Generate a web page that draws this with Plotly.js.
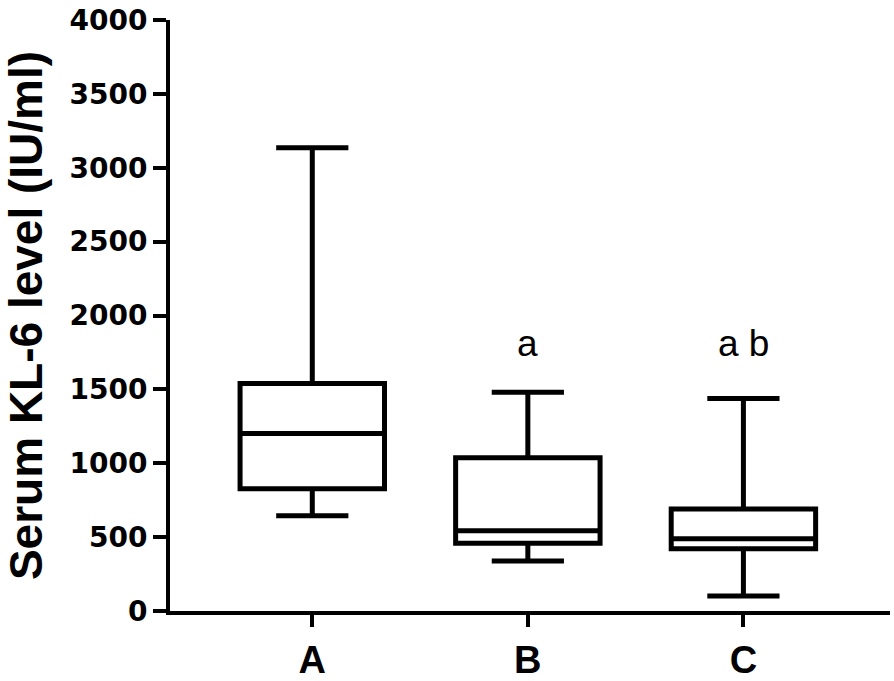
<!DOCTYPE html>
<html>
<head>
<meta charset="utf-8">
<script src="https://cdn.plot.ly/plotly-3.0.1.min.js"></script>
<style>html,body{margin:0;padding:0;background:#fff;}#chart{width:894px;height:681px;}</style>
</head>
<body>
<div id="chart"></div>
<script>
const categories = ['A', 'B', 'C'];
const lowerWhisker = [645, 339, 102];
const q1Values = [828, 458, 421];
const medianValues = [1201, 543, 489];
const q3Values = [1540, 1038, 690];
const upperWhisker = [3135, 1480, 1439];
const sigLabels = ['', 'a', 'a b'];
const sigLabelY = [1812, 1812, 1812];
const yTicks = [0, 500, 1000, 1500, 2000, 2500, 3000, 3500, 4000];

const trace = {
  type: 'box',
  x: categories,
  q1: q1Values,
  median: medianValues,
  q3: q3Values,
  lowerfence: lowerWhisker,
  upperfence: upperWhisker,
  boxpoints: false,
  whiskerwidth: 0.5,
  line: {color: '#000', width: 5},
  fillcolor: 'rgba(255,255,255,0)',
  hoverinfo: 'skip',
  showlegend: false
};

const annotations = [];
categories.forEach((c, i) => {
  if (sigLabels[i]) {
    annotations.push({
      x: c, y: sigLabelY[i], xref: 'x', yref: 'y',
      text: sigLabels[i], showarrow: false,
      font: {family: 'Liberation Sans, Arial, sans-serif', size: 37, color: '#000'}
    });
  }
});

const layout = {
  width: 894, height: 681,
  margin: {l: 170, r: 4, t: 20, b: 70},
  paper_bgcolor: '#fff', plot_bgcolor: '#fff',
  boxgap: 0.33, boxgroupgap: 0,
  xaxis: {
    type: 'category',
    range: [-0.66, 2.68],
    showgrid: false, zeroline: false,
    showline: true, linecolor: '#000', linewidth: 4,
    ticks: 'outside', ticklen: 12, tickwidth: 4, tickcolor: '#000',
    tickfont: {family: 'Liberation Sans, Arial, sans-serif', size: 38, color: '#000', weight: 'bold'},
    fixedrange: true
  },
  yaxis: {
    range: [0, 4000],
    tickvals: yTicks,
    ticktext: yTicks.map(String),
    showgrid: false, zeroline: false,
    showline: true, linecolor: '#000', linewidth: 4,
    ticks: 'outside', ticklen: 13, tickwidth: 4, tickcolor: '#000',
    tickfont: {family: 'DejaVu Sans, sans-serif', size: 28, color: '#000', weight: 'bold'},
    title: {text: 'Serum KL-6 level (IU/ml)', standoff: 18,
      font: {family: 'Liberation Sans, Arial, sans-serif', size: 46, color: '#000', weight: 'bold'}},
    fixedrange: true
  },
  annotations: annotations
};

Plotly.newPlot('chart', [trace], layout, {displayModeBar: false, staticPlot: true});
</script>
</body>
</html>
